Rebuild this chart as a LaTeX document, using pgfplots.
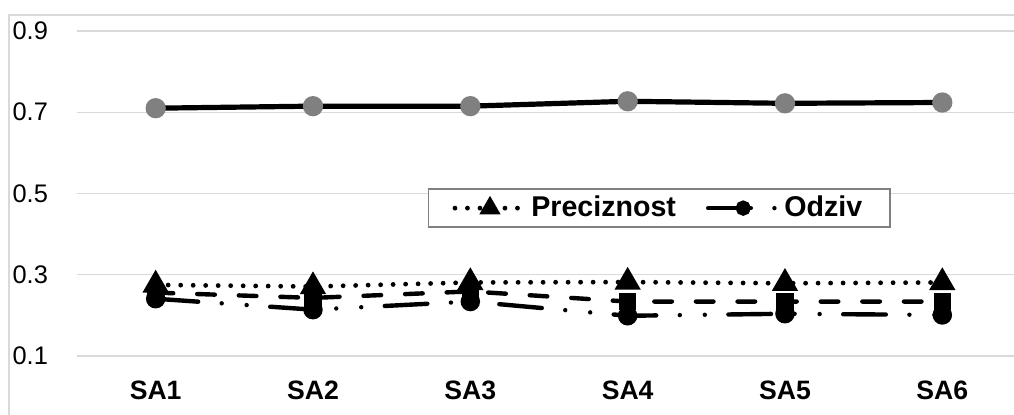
\documentclass[border=0pt]{standalone}
\usepackage{pgfplots}
\pgfplotsset{compat=1.18}
\usepackage{fontspec}
\setmainfont{Liberation Sans}
\definecolor{gridc}{HTML}{D9D9D9}
\definecolor{mk}{HTML}{808080}
\pgfplotstableread{
x solid prec dash odziv
1 0.710 0.275 0.256 0.241
2 0.715 0.271 0.243 0.214
3 0.715 0.281 0.259 0.234
4 0.727 0.282 0.234 0.199
5 0.722 0.279 0.234 0.204
6 0.724 0.281 0.234 0.201
}\datatable
\begin{document}
\begin{tikzpicture}
\useasboundingbox (0,0) rectangle (507pt,207pt);
\draw[gridc, line width=0.7pt] (4.5pt,-20pt) rectangle (540pt,199.5pt);
\begin{axis}[
  at={(38.5pt,29pt)}, anchor=south west,
  scale only axis, width=472pt, height=162.5pt,
  xmin=0.5, xmax=6.5, ymin=0.1, ymax=0.9,
  xtick={1,2,3,4,5,6},
  xticklabels={SA1,SA2,SA3,SA4,SA5,SA6},
  ytick={0.1,0.3,0.5,0.7,0.9},
  yticklabels={0.1,0.3,0.5,0.7,0.9},
  ymajorgrids, grid style={gridc, line width=0.7pt},
  axis line style={draw=none}, major tick length=0pt,
  xticklabel style={anchor=base, yshift=-21.7pt, font=\bfseries\fontsize{13.3}{15}\selectfont},
  yticklabel style={anchor=east, xshift=-11pt, font=\fontsize{12.7}{14}\selectfont},
  clip=false,
  legend columns=2,
  legend style={at={(0.617,0.455)}, anchor=center, draw=mk, line width=0.8pt,
    font=\bfseries\fontsize{14.3}{16}\selectfont,
    inner xsep=12pt, inner ysep=1.5pt,
    /tikz/every even column/.append style={column sep=13pt}},
  legend image code/.code={%
    \draw[mark repeat=2,mark phase=2,/tikz/every mark/.append style={scale=0.72}]
      plot coordinates {(0pt,0pt) (17.5pt,0pt) (35pt,0pt)};},
]
\addplot[black, line width=2.6pt, mark=*, mark size=3.75pt,
  mark options={fill=mk, draw=mk, solid}, forget plot]
  table[x=x,y=solid]{\datatable};
\addplot[black, line width=2.4pt, line cap=round, dash pattern=on 0pt off 6.25pt,
  mark=triangle*, mark size=5.2pt, mark options={solid, fill=black}]
  table[x=x,y=prec]{\datatable};
\addlegendentry{Preciznost}
\addplot[black, line width=2.2pt, line cap=round, dash pattern=on 8.8pt off 12pt,
  mark=square*, mark size=3.2pt, mark options={solid, fill=black}, forget plot]
  table[x=x,y=dash]{\datatable};
\addplot[black, line width=2.2pt, line cap=round,
  dash pattern=on 21.3pt off 11.8pt on 0pt off 12.5pt on 0pt off 11.8pt,
  mark=*, mark size=3.75pt, mark options={solid, fill=black}]
  table[x=x,y=odziv]{\datatable};
\addlegendentry{Odziv}
\end{axis}
\end{tikzpicture}
\end{document}
